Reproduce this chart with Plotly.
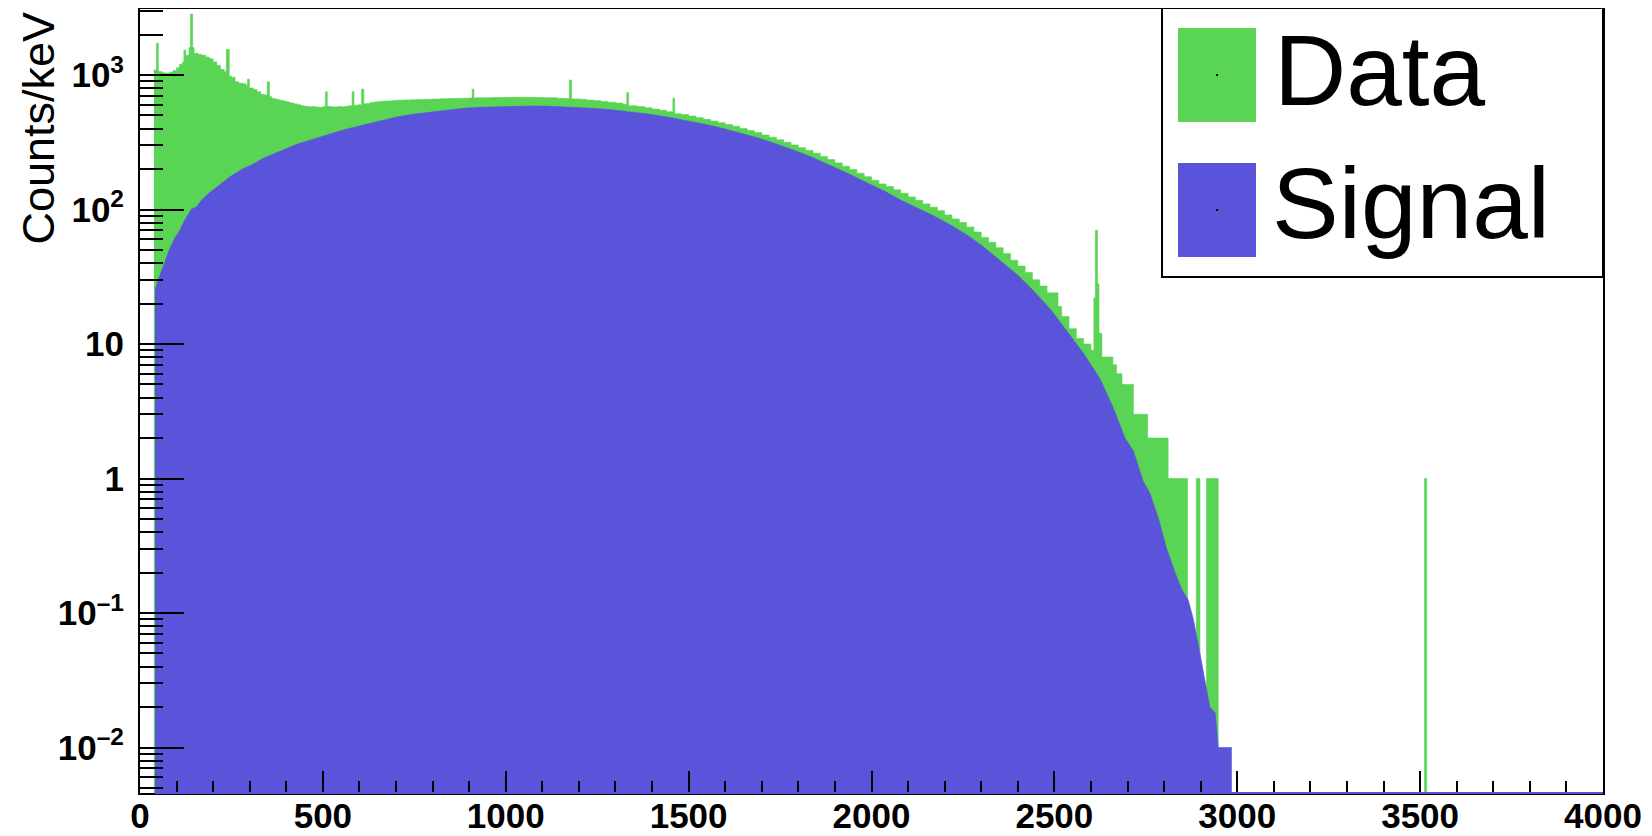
import plotly.graph_objects as go

# ---------------- data ----------------
# Data histogram: left bin edges (keV) and counts/keV
data_lo_keV = [
    38, 45, 50, 60, 70, 80, 90, 100, 108, 116,
    120, 125, 134, 138, 144, 148, 160, 170, 180, 190,
    200, 210, 220, 230, 236, 244, 250, 260, 270, 280,
    290, 294, 299, 310, 320, 330, 340, 348, 354, 360,
    370, 380, 390, 400, 410, 420, 430, 440, 450, 460,
    470, 480, 490, 500, 507, 512, 520, 530, 540, 550,
    560, 570, 580, 585, 595, 606, 612, 620, 630, 640,
    650, 660, 670, 680, 690,
    700, 720, 740, 760, 780, 800, 820, 840, 860, 880,
    900, 908, 913, 920, 940, 960, 980, 1000, 1020, 1040,
    1060, 1080, 1100, 1120, 1140, 1160, 1174, 1180, 1200, 1220,
    1240, 1260, 1280, 1300, 1320, 1331, 1336, 1360, 1380, 1400,
    1420, 1440, 1457, 1462, 1480, 1500, 1520, 1540, 1560, 1580,
    1600, 1620, 1640, 1660, 1680, 1700, 1720, 1740, 1760, 1780,
    1800, 1820, 1840, 1860, 1880, 1900, 1920, 1940, 1960, 1980,
    2000, 2020, 2040, 2060, 2080, 2100, 2120, 2140, 2160, 2180,
    2200, 2220, 2240, 2260, 2280, 2300, 2320, 2340, 2360, 2380,
    2400, 2420, 2440, 2460, 2480, 2500, 2510, 2520, 2540, 2560,
    2580, 2600, 2608, 2612, 2618, 2622, 2630, 2645, 2660, 2670,
    2685, 2700, 2716, 2735, 2755, 2785, 2811, 2864, 2888, 2898,
    2916, 2948, 3512, 3518,
]
data_counts = [
    1090, 1720, 1060, 1040, 1030, 1050, 1080, 1130, 1200, 1250,
    1530, 1400, 1600, 2840, 1600, 1450, 1420, 1400, 1360, 1320,
    1250, 1180, 1100, 1060, 1550, 980, 960, 890, 870, 860,
    840, 930, 800, 780, 750, 720, 710, 890, 690, 670,
    660, 650, 640, 630, 620, 610, 600, 590, 585, 580,
    582, 578, 575, 580, 750, 585, 580, 578, 582, 580,
    585, 590, 750, 595, 600, 785, 610, 615, 625, 630,
    635, 638, 640, 642, 645,
    650, 652, 655, 658, 660, 662, 665, 668, 670, 672,
    675, 785, 675, 676, 678, 680, 680, 682, 683, 683,
    682, 680, 678, 676, 672, 668, 918, 664, 660, 652,
    645, 636, 628, 618, 606, 740, 590, 582, 570, 558,
    546, 533, 671, 515, 508, 495, 482, 468, 455, 442,
    428, 415, 400, 387, 373, 358, 344, 330, 316, 302,
    288, 275, 262, 248, 235, 222, 210, 198, 186, 175,
    165, 155, 148, 140, 132, 124, 117, 110, 104, 98,
    91, 85, 80, 74, 68, 62, 57, 52, 47, 42,
    38, 34, 30, 27, 24, 24, 19, 16, 13, 11,
    10, 9, 22, 70, 28, 12, 8, 8, 7, 6,
    5, 5, 3, 3, 2, 2, 1, 0, 1, 0,
    1, 0, 1, 0,
]
data_hi_edge_keV = 4000

# Signal spectrum: energy (keV) and counts/keV
signal_keV = [
    41, 50, 64, 80, 96, 109, 123, 140, 155, 169,
    190, 214, 246, 280, 305, 337, 370, 396, 428, 460,
    488, 519, 560, 611, 660, 702, 750, 793, 840, 884,
    930, 975, 1020, 1066, 1110, 1157, 1200, 1249, 1295, 1340,
    1390, 1440, 1490, 1540, 1590, 1640, 1690, 1740, 1790, 1840,
    1890, 1940, 1990, 2040, 2078, 2120, 2169, 2215, 2260, 2305,
    2351, 2400, 2442, 2490, 2534, 2580, 2625, 2660, 2693, 2716,
    2743, 2761, 2785, 2807, 2830, 2848, 2866, 2880, 2898, 2912,
    2925, 2940, 2948, 2985,
]
signal_counts = [
    25, 30, 38, 50, 62, 70, 84, 100, 105, 118,
    133, 150, 175, 200, 214, 240, 262, 280, 305, 325,
    342, 365, 393, 425, 460, 488, 512, 530, 550, 565,
    575, 581, 586, 588, 587, 581, 574, 563, 550, 533,
    512, 488, 462, 433, 403, 372, 340, 307, 275, 243,
    212, 183, 157, 135, 118, 104, 90, 77, 65, 53,
    42, 32.5, 25, 18, 12.5, 8.5, 5.5, 3.4, 2.0, 1.6,
    0.95, 0.78, 0.5, 0.3, 0.2, 0.15, 0.125, 0.09, 0.05, 0.03,
    0.02, 0.018, 0.01, 0.01,
]

x_ticks = [0, 500, 1000, 1500, 2000, 2500, 3000, 3500, 4000]
y_tick_vals = [0.01, 0.1, 1, 10, 100, 1000]
y_tick_text = ["10<sup>\u20132</sup>", "10<sup>\u20131</sup>", "1", "10",
               "10<sup>2</sup>", "10<sup>3</sup>"]
legend_labels = ["Data", "Signal"]
y_title = "Counts/keV"

assert len(data_lo_keV) == len(data_counts)
assert len(signal_keV) == len(signal_counts)

# ---------------- style ----------------
GREEN = "#59D454"
BLUE = "#5954D9"
FONT = "Liberation Sans, Arial, Helvetica, sans-serif"

# The page body has an 8px margin; figure is sized/offset to compensate.
OFF = 8
W, H = 1652 - OFF, 836 - OFF
# target frame in page pixels
PL, PR, PT, PB = 140, 1603, 9, 793
L, R, T, B = PL - OFF, PR - OFF, PT - OFF, PB - OFF  # in figure pixels

def px2x(px):
    return (px - PL) / (PR - PL)

def py2y(py):
    return (PB - py) / (PB - PT)

fig = go.Figure()

# Data histogram (step, filled)
dx = list(data_lo_keV) + [data_hi_edge_keV]
dy = [c if c > 0 else 1e-5 for c in data_counts]
dy = dy + [dy[-1]]
fig.add_trace(go.Scatter(
    x=dx, y=dy, mode="lines", name=legend_labels[0],
    line=dict(color=GREEN, width=0.6, shape="hv"),
    fill="tozeroy", fillcolor=GREEN, hoverinfo="skip",
))

# Signal (filled, drawn on top)
fig.add_trace(go.Scatter(
    x=signal_keV, y=signal_counts, mode="lines", name=legend_labels[1],
    line=dict(color=BLUE, width=0.6),
    fill="tozeroy", fillcolor=BLUE, hoverinfo="skip",
))

# minor tick values for log axis
y_minor = [m * 10 ** e for e in range(-3, 4) for m in range(2, 10)]

# log range: decade = 134.5 px, 10^3 at page y=75, bottom at page y=793
DEC = 134.5
y_top = 3 + (75 - PT) / DEC
y_bot = 3 - (PB - 75) / DEC

fig.update_layout(
    width=W, height=H,
    margin=dict(l=L, r=W - R, t=T, b=H - B, pad=0, autoexpand=False),
    paper_bgcolor="white", plot_bgcolor="white",
    showlegend=False,
    font=dict(family=FONT, color="black"),
    xaxis=dict(
        range=[0, 4000], tickmode="array", tickvals=x_ticks,
        ticktext=[str(v) for v in x_ticks],
        ticks="inside", ticklen=22, tickwidth=2, tickcolor="black",
        minor=dict(dtick=100, tick0=0, ticks="inside", ticklen=12,
                   tickwidth=2, tickcolor="black", showgrid=False),
        showline=True, linecolor="black", linewidth=2, mirror=True,
        showgrid=False, zeroline=False, automargin=False,
        tickfont=dict(family=FONT, size=35, color="black", weight="bold"),
        ticklabelstandoff=-9,
    ),
    yaxis=dict(
        type="log", range=[y_bot, y_top],
        tickmode="array", tickvals=y_tick_vals, ticktext=y_tick_text,
        ticks="inside", ticklen=44, tickwidth=2, tickcolor="black",
        minor=dict(tickmode="array", tickvals=y_minor, ticks="inside",
                   ticklen=23, tickwidth=2, tickcolor="black", showgrid=False),
        showline=True, linecolor="black", linewidth=2, mirror=True,
        showgrid=False, zeroline=False, automargin=False,
        tickfont=dict(family=FONT, size=35, color="black", weight="bold"),
        ticklabelstandoff=7,
    ),
)

shapes = []
# signal outline along the zero level (bottom of frame)
shapes.append(dict(type="line", xref="x", yref="paper",
                   x0=signal_keV[0], x1=4000, y0=0, y1=0,
                   line=dict(color=BLUE, width=2), layer="above"))
# legend box
shapes.append(dict(type="rect", xref="paper", yref="paper",
                   x0=px2x(1162), x1=px2x(1603), y0=py2y(277), y1=py2y(8),
                   line=dict(color="black", width=2), fillcolor="white",
                   layer="above"))
# legend swatches
for (top, bot), col in [((28, 122), GREEN), ((163, 257), BLUE)]:
    shapes.append(dict(type="rect", xref="paper", yref="paper",
                       x0=px2x(1178), x1=px2x(1256), y0=py2y(bot), y1=py2y(top),
                       line=dict(color=col, width=0), fillcolor=col,
                       layer="above"))
    cy = (top + bot) / 2
    shapes.append(dict(type="rect", xref="paper", yref="paper",
                       x0=px2x(1216), x1=px2x(1218), y0=py2y(cy + 1), y1=py2y(cy - 1),
                       line=dict(width=0), fillcolor="black", layer="above"))
fig.update_layout(shapes=shapes)

annotations = [
    dict(text=legend_labels[0], xref="paper", yref="paper",
         x=px2x(1272), y=py2y(70), xanchor="left", yanchor="middle",
         showarrow=False, font=dict(family=FONT, size=100, color="black")),
    dict(text=legend_labels[1], xref="paper", yref="paper",
         x=px2x(1270), y=py2y(203), xanchor="left", yanchor="middle",
         showarrow=False, font=dict(family=FONT, size=100, color="black")),
    dict(text=y_title, xref="paper", yref="paper",
         x=px2x(38), y=py2y(9), xanchor="center", yanchor="top",
         textangle=-90, showarrow=False,
         font=dict(family=FONT, size=45, color="black")),
]
fig.update_layout(annotations=annotations)

fig.write_html("out.html")
